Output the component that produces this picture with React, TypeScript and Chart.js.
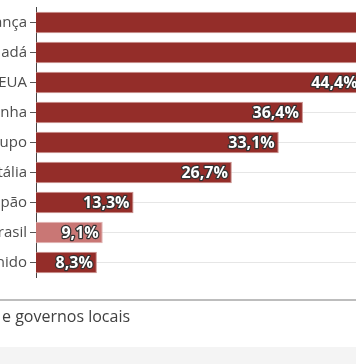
import React, { useEffect, useRef } from "react";
import { Chart, registerables } from "chart.js";

Chart.register(...registerables);

const categories = [
  "França",
  "Canadá",
  "EUA",
  "Alemanha",
  "Média do grupo",
  "Itália",
  "Japão",
  "Brasil",
  "Reino Unido",
];
const values = [58.2, 53.7, 44.4, 36.4, 33.1, 26.7, 13.3, 9.1, 8.3];
const highlighted = ["Brasil"];
const noteText = "e governos locais";

const DARK = "#942d29";
const LIGHT = "#c97775";

const valueLabels = {
  id: "valueLabels",
  afterDatasetsDraw(chart: any) {
    const ctx = chart.ctx;
    const meta = chart.getDatasetMeta(0);
    ctx.save();
    ctx.font = "bold 16px 'Open Sans', sans-serif";
    ctx.textAlign = "right";
    ctx.textBaseline = "middle";
    ctx.lineJoin = "round";
    ctx.lineWidth = 2.5;
    ctx.strokeStyle = "#333333";
    ctx.fillStyle = "#ffffff";
    meta.data.forEach((bar: any, i: number) => {
      const txt = values[i].toFixed(1).replace(".", ",") + "%";
      const x = bar.x - 4;
      const y = bar.y + 1;
      ctx.strokeText(txt, x, y);
      ctx.fillText(txt, x, y);
    });
    ctx.restore();
  },
};

export default function App() {
  const ref = useRef<HTMLCanvasElement | null>(null);
  useEffect(() => {
    if (!ref.current) return;
    const chart = new Chart(ref.current, {
      type: "bar",
      data: {
        labels: categories,
        datasets: [
          {
            data: values,
            backgroundColor: categories.map((c) =>
              highlighted.includes(c) ? LIGHT : DARK
            ),
            borderColor: categories.map((c) =>
              highlighted.includes(c) ? "#e0b3b2" : "#c98e8a"
            ),
            borderWidth: 1,
            barPercentage: 0.72,
            categoryPercentage: 1,
          },
        ],
      },
      options: {
        indexAxis: "y",
        responsive: false,
        animation: false,
        layout: { padding: { top: 7.5, bottom: 86.5, left: 0, right: 0 } },
        plugins: {
          legend: { display: false },
          tooltip: { enabled: false },
        },
        scales: {
          x: {
            display: false,
            min: 0,
            max: 60,
          },
          y: {
            afterFit: (scale: any) => {
              scale.width = 120;
              scale.paddingTop = 0;
              scale.paddingBottom = 0;
            },
            grid: {
              offset: false,
              color: "#e6e6e6",
              lineWidth: 1,
              tickColor: "#555555",
              tickLength: 6,
              drawTicks: true,
            },
            border: { display: true, color: "#444444", width: 1 },
            ticks: {
              color: "#4d4d4d",
              padding: 3,
              font: { family: "'Open Sans', sans-serif", size: 15 },
            },
          },
        },
      },
      plugins: [valueLabels],
    });
    return () => chart.destroy();
  }, []);

  return (
    <div
      style={{
        position: "absolute",
        left: 0,
        top: 0,
        width: 356,
        height: 364,
        overflow: "hidden",
        background: "#ffffff",
      }}
    >
      <canvas
        ref={ref}
        width={560}
        height={364}
        style={{ position: "absolute", left: -84, top: 0, width: 560, height: 364 }}
      />
      <div
        style={{
          position: "absolute",
          left: 0,
          top: 299,
          width: 356,
          height: 2,
          background: "#bdbdbd",
        }}
      />
      <div
        style={{
          position: "absolute",
          left: 2,
          top: 305,
          fontFamily: "'Open Sans', sans-serif",
          fontSize: 16,
          lineHeight: "22px",
          color: "#404040",
          whiteSpace: "nowrap",
        }}
      >
        {noteText}
      </div>
      <div
        style={{
          position: "absolute",
          left: 0,
          top: 347,
          width: 356,
          height: 17,
          background: "#f4f4f4",
        }}
      />
    </div>
  );
}
